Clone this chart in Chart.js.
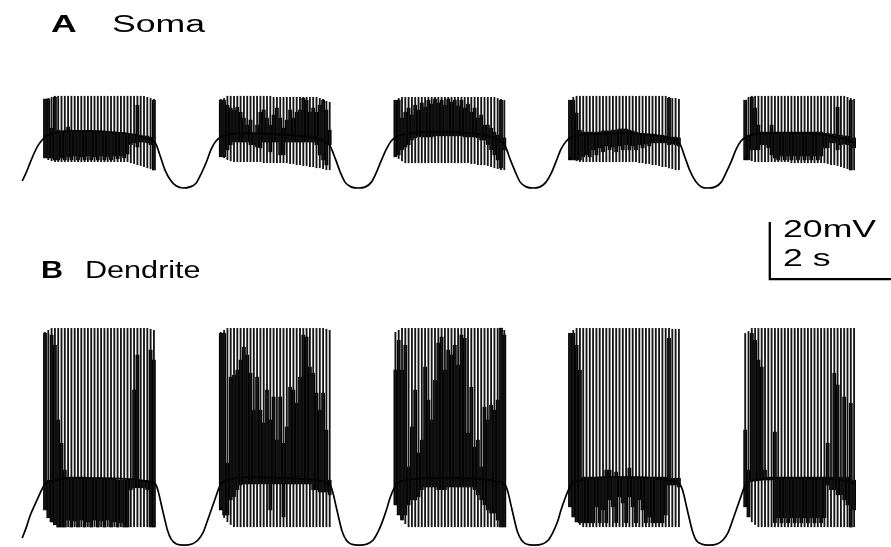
<!DOCTYPE html>
<html>
<head>
<meta charset="utf-8">
<script src="https://cdn.jsdelivr.net/npm/chart.js@4.4.1/dist/chart.umd.min.js"></script>
<style>
  html, body { margin: 0; padding: 0; background: #fff; }
  #wrap { position: relative; width: 891px; height: 547px; overflow: hidden; background: #fff; }
  #wrap canvas { position: absolute; left: 0; top: 0; }
  .lbl { position: absolute; font-family: 'Liberation Sans', Arial, sans-serif; font-size: 23px; line-height: 23px;
         color: #000; white-space: nowrap; transform: scaleX(1.55); transform-origin: 0 0; }
  .narrow { transform: scaleX(1.33); }
  .bold { font-weight: bold; }
</style>
</head>
<body>
<div id="wrap">
  <canvas id="trace" width="891" height="547"></canvas>
  <div class="lbl bold" style="left:51px;top:13px">A</div>
  <div class="lbl" style="left:112px;top:13px">Soma</div>
  <div class="lbl bold narrow" style="left:41px;top:259px">B</div>
  <div class="lbl narrow" style="left:85px;top:259px">Dendrite</div>
  <div class="lbl" id="barV" style="left:783px;top:218px"></div>
  <div class="lbl" id="barT" style="left:783px;top:247px"></div>
</div>
<script>
// ---- timebase ----
const spikeInterval = 0.055;                       // s between spikes within a burst
const burstOnsets = [0.38, 3.31, 6.22, 9.13, 12.05]; // s, first spike of each burst

// ---- scale bar ----
const barSeconds = 2;
const barMillivolts = 20;
const barAnchorT = 12.46;   // s
const barAnchorV = 33.2;    // mV on the dendrite axis

// ---- soma: slow wave / plateau [t (s), V (mV)] ----
const somaBaseline = [
  [0,-57.5],[0.07,-54.3],[0.13,-51.1],[0.2,-47.5],[0.27,-44.6],[0.33,-42.9],[0.38,-41.8],
  [0.55,-40.4],[0.8,-39.6],[1.13,-39.6],[1.47,-40],[1.8,-40.7],[2.05,-42.1],[2.22,-43.9],
  [2.3,-48.6],[2.38,-53.6],[2.47,-57.1],[2.57,-59.3],[2.68,-60],[2.8,-59.6],[2.9,-58.2],[2.98,-55],[3.07,-50.7],[3.15,-46.1],[3.23,-43.2],[3.32,-41.8],
  [3.47,-40.7],[3.8,-40.4],[4.13,-40.7],[4.47,-41.1],[4.8,-41.8],[5,-42.9],[5.13,-45],
  [5.22,-49.6],[5.3,-54.3],[5.38,-57.9],[5.48,-59.6],[5.6,-60],[5.72,-59.6],[5.82,-57.9],[5.9,-54.6],[5.98,-50.4],[6.07,-46.1],[6.15,-43.2],[6.23,-41.8],
  [6.38,-40.7],[6.72,-40],[7.05,-40],[7.38,-40.4],[7.72,-41.1],[7.92,-42.5],[8.05,-45],
  [8.13,-49.6],[8.22,-54.3],[8.3,-57.9],[8.4,-59.6],[8.52,-60],[8.63,-59.6],[8.73,-57.9],[8.82,-54.6],[8.9,-50.4],[8.98,-46.1],[9.07,-43.2],[9.15,-41.8],
  [9.3,-41.1],[9.63,-40.7],[9.97,-40.4],[10.3,-40.7],[10.63,-41.4],[10.83,-42.5],[10.97,-44.6],
  [11.05,-49.3],[11.13,-53.9],[11.22,-57.5],[11.32,-59.6],[11.43,-60],[11.55,-59.6],[11.65,-57.9],[11.73,-54.6],[11.82,-50.4],[11.9,-46.1],[11.98,-43.2],[12.07,-41.8],
  [12.22,-40.7],[12.55,-40.4],[12.88,-40.4],[13.22,-40.7],[13.55,-41.8],[13.77,-42.9],[13.87,-43.9]
];

// ---- soma spikes: peak and trough per spike (mV), one row per burst ----
const somaPeak = [
  [-28.2,-27.9,-27.5,
   -27.1,-27.1,-27.1,-27.1,-27.1,-27.1,-27.1,
   -27.1,-27.1,-27.1,-27.1,-27.1,-27.1,-27.1,
   -27.1,-27.1,-27.1,-27.1,-27.1,-27.1,-27.1,
   -27.1,-27.1,-27.1,-27.1,-27.1,-27.1,-27.1,
   -27.5,-27.9,-28.2],
  [-28.2,-27.9,
   -27.1,-27.1,-27.1,-27.1,-27.1,-27.1,-27.1,
   -27.1,-27.1,-27.1,-27.1,-27.1,-27.1,-27.1,
   -27.5,-27.5,-27.5,-27.5,-27.5,-27.5,-27.5,
   -27.5,-27.5,-27.5,-27.5,-27.5,-27.5,-27.5,
   -27.9,-28.2,-28.9,-29.3],
  [-28.6,-27.9,
   -27.5,-27.5,-27.5,-27.5,-27.5,-27.5,-27.5,
   -27.5,-27.5,-27.5,-27.5,-27.5,-27.5,-27.5,
   -27.5,-27.5,-27.5,-27.5,-27.5,-27.5,-27.5,
   -27.5,-27.5,-27.5,-27.5,-27.5,-27.5,-27.5,
   -27.5,
   -27.9,-28.2,-28.6],
  [-28.6,-27.5,
   -27.1,-27.1,-27.1,-27.1,-27.1,-27.1,-27.1,
   -27.1,-27.1,-27.1,-27.1,-27.1,-27.1,-27.1,
   -27.1,-27.1,-27.1,-27.1,-27.1,-27.1,-27.1,
   -27.1,-27.1,-27.1,-27.1,-27.1,-27.1,-27.1,
   -27.5,-27.9,-27.9,-28.2],
  [-28.6,-27.5,
   -27.1,-27.1,-27.1,-27.1,-27.1,-27.1,-27.1,
   -27.1,-27.1,-27.1,-27.1,-27.1,-27.1,-27.1,
   -27.1,-27.1,-27.1,-27.1,-27.1,-27.1,-27.1,
   -27.1,-27.1,-27.1,-27.1,-27.1,-27.1,-27.1,
   -27.1,
   -27.5,-27.9,-28.2]
];
const somaTrough = [
  [-49.3,-50,-50.4,
   -50.7,-50.7,-50.7,-50.7,-50.7,-50.7,-50.7,
   -50.7,-50.7,-50.7,-50.7,-50.7,-50.7,-50.7,
   -50.7,-50.7,-50.7,-50.7,-50.7,-50.7,-50.7,
   -50.7,-50.7,
   -51.1,-51.4,-51.8,-52.1,-52.5,-52.9,-53.2,-53.6],
  [-48.9,-49.3,-50,-50.4,
   -50.7,-50.7,-50.7,-50.7,-50.7,-50.7,-50.7,-50.7,-50.7,
   -51.1,-51.1,-51.1,-51.1,-51.1,-51.1,-51.1,-51.1,
   -51.4,-51.4,-51.8,-51.8,-52.1,-52.1,-52.5,-52.5,-52.9,-52.9,-53.2,-53.6,-53.6],
  [-48.9,-49.6,-50.4,
   -51.1,-51.1,-51.1,-51.1,-51.1,-51.1,-51.1,-51.1,-51.1,-51.1,
   -51.1,-51.1,-51.1,-51.1,-51.1,-51.1,-51.1,-51.1,-51.1,-51.1,
   -51.4,-51.4,-51.8,-51.8,-51.8,-52.1,-52.5,-52.9,-53.2,-53.6,-53.6],
  [-48.9,-50,-50.4,
   -50.7,-50.7,-50.7,-50.7,-50.7,-50.7,-50.7,-50.7,-50.7,
   -50.7,-50.7,-50.7,-50.7,-50.7,-50.7,-50.7,-50.7,-50.7,
   -51.1,-51.1,-51.4,-51.4,-51.8,-51.8,-52.1,-52.5,-52.5,-52.9,-53.2,-53.6,-53.6],
  [-48.9,-50,-50.4,
   -50.7,-50.7,-50.7,-50.7,-50.7,-50.7,-50.7,-50.7,-50.7,-50.7,-50.7,
   -51.1,-51.1,-51.1,-51.1,-51.1,-51.1,-51.1,-51.1,-51.1,-51.1,-51.1,
   -51.4,-51.8,-51.8,-52.1,-52.5,-52.9,-53.2,-53.6,-53.6]
];
// dense firing band (merged spikelets) per spike slot: upper and lower edge (mV)
const somaBandHigh = [
  [-28.2,-28.2,-38.6,-27.5,-39.3,-39.6,-39.6,-38.2,
   -39.6,-39.6,-39.6,-39.6,-39.6,-39.6,-39.6,
   -40,-40,-40,-40,-40,-40,-40,
   -40.4,-40.4,-40.4,-40.4,
   -40.7,-40.7,-30.4,-41.1,-41.4,-41.4,-41.8,-28.6],
  [-28.6,-28.6,-30.4,-31.4,-32.1,-31.1,-32.9,-35,-37.5,-35.7,-40.4,-37.5,-32.9,-32.1,-35,-37.5,-33.9,
   -31.4,-35,-38.6,-35.7,-32.1,-35,-32.9,-32.1,-27.9,-28.6,-32.9,-31.4,-32.9,-30.4,-28.6,-32.1,-39.3],
  [-28.6,-28.6,-35,-32.9,-31.4,-33.9,-30.4,-32.1,-29.6,-31.1,-28.6,-30,-28.2,-29.6,-28.6,-30.4,-28.2,
   -29.3,-28.6,-30.7,-28.6,-31.4,-30,-32.9,-31.4,-35,-33.9,-37.5,-37.5,-38.6,-40,-41.1,-28.6,-42.1],
  [-28.6,-28.6,-33.2,-39.3,-40,-40,-40,-40,-40,-40,-39.6,-39.6,-39.6,-39.3,-39.3,-38.9,-38.9,
   -38.9,-39.3,-39.6,-40,-40.4,-40.4,-40.7,-40.7,-40.7,-41.1,-41.1,-41.1,-41.4,-27.9,-41.8,-41.8,-42.1],
  [-28.6,-41.1,-27.5,-31.4,-37.5,-40,-40,-40,-37.5,-40,
   -40,-40,-40,-40,-40,-40,-40,-40,-40,-40,-40,-40,-40,-40,
   -40.4,-40.4,-40.7,-40.7,-31.1,-41.1,-41.4,-41.4,-28.6,-42.1]
];
const somaBandLow = [
  [-49.3,-49.3,-49.3,-50,-50,-49.3,-50,-48.9,
   -50,-48.6,-50,-48.9,-50,-48.6,-50,-48.9,-50,-48.6,-50,-48.9,-50,-48.6,
   -49.6,-48.6,-49.3,-47.9,
   -44.6,-43.9,-45.4,-43.6,-43.6,-43.9,-44.6,-53.6],
  [-48.9,-48.9,-46.4,-44.6,-43.6,-43.6,-43.6,-43.6,-43.6,
   -44.6,-44.6,-45.4,-45.7,-43.6,-43.6,-47.1,-43.6,-43.6,-48.2,-48.2,
   -43.6,-43.6,-43.6,-43.6,-43.6,-43.6,-43.6,-43.6,-43.6,
   -44.6,-48.2,-50,-51.8,-44.6],
  [-48.9,-48.2,-46.4,-45.4,-44.6,-42.9,-42.1,-41.8,-41.8,-41.8,-41.8,-41.8,
   -41.4,-41.4,-41.4,-41.4,-41.4,-41.4,-41.4,-41.4,-41.4,
   -41.8,-41.8,-41.8,-41.8,
   -42.1,-42.9,-42.9,-44.6,-46.4,-48.2,-50,-52.9,-46.4],
  [-50,-50,-50,-50,-48.9,-48.2,-48.9,-46.4,-48.2,-45.7,-47.1,-45,-46.4,-45.4,-47.1,-45,-46.4,
   -44.6,-46.4,-45,-46.4,-44.6,-45.7,-44.3,-45,-43.9,-43.9,-43.9,-43.9,-43.9,-44.6,-44.3,-44.6,-45],
  [-50,-50,-46.4,-46.4,-46.4,-44.6,-44.6,-45.7,-48.2,-49.3,
   -50,-48.6,-50,-48.6,-50,-48.6,-50,-48.6,-50,-48.6,-50,-48.6,-50,-48.6,
   -45.7,-45.7,-43.9,-43.9,-46.4,-44.6,-44.3,-44.6,-53.6,-45.7]
];

// ---- dendrite: slow wave / plateau [t (s), V (mV)] ----
const dendBaseline = [
  [0,-59.3],[0.07,-55.4],[0.13,-51.4],[0.2,-47.9],[0.27,-44.6],[0.33,-41.8],[0.38,-40],
  [0.55,-38.6],[0.88,-37.9],[1.3,-37.9],[1.72,-38.2],[2.05,-38.9],[2.22,-40],
  [2.27,-42.9],[2.32,-47.5],[2.37,-52.1],[2.42,-56.4],[2.48,-59.6],[2.57,-61.4],[2.7,-61.8],[2.83,-61.4],[2.93,-60],[3.02,-57.1],[3.08,-53.6],[3.15,-49.3],[3.22,-45],[3.28,-41.4],[3.33,-39.6],
  [3.5,-38.2],[3.88,-37.5],[4.3,-37.9],[4.72,-38.2],[4.97,-38.9],[5.13,-40.4],
  [5.18,-43.2],[5.23,-47.9],[5.28,-52.5],[5.33,-56.8],[5.4,-60],[5.48,-61.4],[5.62,-61.8],[5.75,-61.4],[5.85,-60],[5.93,-57.1],[6,-53.6],[6.07,-49.3],[6.13,-45],[6.2,-41.4],[6.25,-39.6],
  [6.42,-38.6],[6.8,-37.9],[7.22,-37.9],[7.63,-38.2],[7.88,-38.9],[8.05,-40.4],
  [8.1,-43.2],[8.15,-47.9],[8.2,-52.5],[8.25,-56.8],[8.32,-60],[8.4,-61.4],[8.53,-61.8],[8.67,-61.4],[8.77,-60],[8.85,-57.1],[8.92,-53.6],[8.98,-49.3],[9.05,-45],[9.12,-41.4],[9.17,-39.6],
  [9.33,-38.6],[9.72,-37.5],[10.13,-37.5],[10.55,-37.9],[10.8,-38.9],[10.97,-40.4],
  [11.02,-43.2],[11.07,-47.9],[11.12,-52.5],[11.17,-56.8],[11.23,-60],[11.32,-61.4],[11.45,-61.8],[11.58,-61.4],[11.68,-60],[11.77,-57.1],[11.83,-53.6],[11.9,-49.3],[11.97,-45],[12.03,-41.4],[12.08,-39.6],
  [12.25,-38.6],[12.63,-37.9],[13.05,-37.9],[13.47,-38.2],[13.72,-38.9],[13.87,-40]
];

// ---- dendrite spikes ----
const dendPeak = [
  [14.3,15,
   15.7,15.7,15.7,15.7,15.7,15.7,15.7,15.7,15.7,15.7,
   15.7,15.7,15.7,15.7,15.7,15.7,15.7,15.7,15.7,15.7,
   15.7,15.7,15.7,15.7,15.7,15.7,15.7,15.7,15.7,15.7,
   15.4,15],
  [14.3,15,
   15.7,15.7,15.7,15.7,15.7,15.7,15.7,15.7,15.7,15.7,
   15.7,15.7,15.7,15.7,15.7,15.7,15.7,15.7,15.7,15.7,
   15.7,15.7,15.7,15.7,15.7,15.7,15.7,15.7,15.7,15.7,
   15.4,15],
  [14.3,15,
   15.7,15.7,15.7,15.7,15.7,15.7,15.7,15.7,15.7,15.7,
   15.7,15.7,15.7,15.7,15.7,15.7,15.7,15.7,15.7,15.7,
   15.7,15.7,15.7,15.7,15.7,15.7,15.7,15.7,15.7,15.7,
   15.4,15],
  [13.9,15,
   15.7,15.7,15.7,15.7,15.7,15.7,15.7,15.7,15.7,15.7,
   15.7,15.7,15.7,15.7,15.7,15.7,15.7,15.7,15.7,15.7,
   15.7,15.7,15.7,15.7,15.7,15.7,15.7,15.7,15.7,
   15.4,15.4,15.4],
  [13.9,14.6,
   15.7,15.7,15.7,15.7,15.7,15.7,15.7,15.7,15.7,15.7,
   15.7,15.7,15.7,15.7,15.7,15.7,15.7,15.7,15.7,15.7,
   15.7,15.7,15.7,15.7,15.7,15.7,15.7,15.7,15.7,15.7,
   15.7,15.7]
];
const dendTrough = [
  [-49.3,-52.1,-53.6,-54.6,
   -55.4,-55.4,-55.4,-55.4,-55.4,-55.4,-55.4,-55.4,-55.4,-55.4,
   -55.4,-55.4,-55.4,-55.4,-55.4,-55.4,-55.4,-55.4,-55.4,-55.4,
   -55.4,-55.4,-55.4,-55.4,-55.4,-55.4,-55.4,-55.4,-55.4,-55.4],
  [-48.2,-52.1,-53.6,-54.6,
   -55.4,-55.4,-55.4,-55.4,-55.4,-55.4,-55.4,-55.4,-55.4,-55.4,
   -55.4,-55.4,-55.4,-55.4,-55.4,-55.4,-55.4,-55.4,-55.4,-55.4,
   -55.4,-55.4,-55.4,-55.4,-55.4,-55.4,-55.4,-55.4,-55.4,-55.4],
  [-47.5,-51.1,-52.9,-54.3,
   -55.4,-55.4,-55.4,-55.4,-55.4,-55.4,-55.4,-55.4,-55.4,-55.4,
   -55.4,-55.4,-55.4,-55.4,-55.4,-55.4,-55.4,-55.4,-55.4,-55.4,
   -55.4,-55.4,-55.4,-55.4,-55.4,-55.4,-55.4,-55.4,-55.4,-55.4],
  [-48.2,-51.8,-53.6,-54.6,
   -55.4,-55.4,-55.4,-55.4,-55.4,-55.4,-55.4,-55.4,-55.4,-55.4,
   -55.4,-55.4,-55.4,-55.4,-55.4,-55.4,-55.4,-55.4,-55.4,-55.4,
   -55.4,-55.4,-55.4,-55.4,-55.4,-55.4,-55.4,-55.4,-55.4,-55.4],
  [-48.2,-51.8,-53.6,-54.6,
   -55.4,-55.4,-55.4,-55.4,-55.4,-55.4,-55.4,-55.4,-55.4,-55.4,
   -55.4,-55.4,-55.4,-55.4,-55.4,-55.4,-55.4,-55.4,-55.4,-55.4,
   -55.4,-55.4,-55.4,-55.4,-55.4,-55.4,-55.4,-55.4,-55.4,-55.4]
];
const dendBandHigh = [
  [13.9,-38.6,13.2,9.6,-17.1,-25.4,-35,
   -37.5,-37.5,-37.5,-37.5,-37.5,-37.5,
   -37.9,-37.9,-37.9,-37.9,-37.9,
   -38.2,-38.2,-38.2,-38.2,
   -38.6,-38.6,-38.6,-38.6,-38.6,
   -6.4,6.1,-38.9,-38.9,-38.9,7.9,4.3],
  [13.9,13.9,-32.5,-1.8,-1.1,0.7,4.3,8.9,6.1,-0.4,-13.6,-1.8,-13.6,-18.2,-6.4,-17.1,-8.9,
   -24.3,-8.9,-25.4,-19.6,-5.4,-6.4,-11.1,-1.8,13.2,12.5,1.8,-0.4,-7.5,-13.6,-7.5,-20.7,-38.6],
  [0.7,11.4,0.7,9.6,-33.9,-19.6,-6.4,-28.9,-24.3,1.8,-10,-17.1,-2.9,10.4,12.5,0.7,7.9,
   6.1,9.6,2.5,13.2,12.1,-21.8,-5.4,-26.8,-24.3,-33.9,-12.5,-17.1,-11.8,-13.6,-10,15.7,13.2],
  [13.9,13.9,9.6,0.7,-37.5,-37.5,-37.5,-37.5,-37.5,-37.5,-37.5,-35,-35,-37.5,-35.7,-37.5,-37.5,
   -37.5,-34.3,-37.5,-37.5,-37.5,-37.5,-37.5,-37.5,-37.5,-37.5,-37.5,-37.5,-37.5,12.1,-37.9,-37.9,-37.9],
  [-20.7,-35,13.9,11.4,4.3,1.8,-35,-37.5,-37.5,-21.4,
   -37.5,-37.5,-37.5,-37.5,-37.5,-37.5,-37.5,-37.5,-37.5,-37.5,-37.5,-37.5,-37.5,-37.5,-37.5,
   -25.4,-37.5,-0.4,-4.6,-37.5,-8.9,-37.5,-11.1,-38.6]
];
const dendBandLow = [
  [-49.3,-52.1,-53.6,-54.6,-55.4,-55.4,-55.4,
   -52.9,-55.4,-53.2,-55.4,-52.9,-55.4,-53.6,-55.4,-52.9,-55.4,-53.2,-55.4,-52.9,-55.4,-53.6,-55.4,-53.9,-55.4,-55.4,
   -42.1,-41.4,-41.4,-41.4,-41.4,-42.1,-55.4,-55.4],
  [-49.3,-51.1,-51.1,-45.7,-44.6,-42.1,-40.4,
   -40,-40,-40,-40,-40,-40,-40,-40,
   -49.3,-40,-40,-40,-51.8,
   -40,-40,-40,-40,-40,-40,-40,-40,
   -42.1,-42.1,-42.9,-42.9,-42.9,-43.9],
  [-47.5,-51.1,-52.9,-51.1,-47.5,-45.7,-45.7,-44.6,-42.1,-41.1,-41.1,-41.1,-41.1,-42.1,-42.1,-42.1,
   -41.1,-41.1,-41.1,-41.1,-41.1,-41.1,-41.1,-41.1,
   -42.1,-43.9,-45.7,-47.5,-49.3,-50.4,-50.4,-52.9,-55.4,-55.4],
  [-48.2,-51.8,-53.6,-53.9,-53.9,-53.9,-53.9,-53.9,-48.2,-53.9,-49.3,-53.9,-45.7,-48.2,-53.9,-44.6,-46.8,
   -53.9,-44.6,-48.2,-53.9,-45.7,-49.3,-53.9,-51.8,-53.9,-53.9,-53.9,-53.9,-51.1,-40.4,-40.4,-40.4,-41.1],
  [-48.2,-51.8,-38.6,-38.6,-38.6,-38.6,-38.6,-38.6,-38.6,-53.9,
   -52.1,-53.9,-52.1,-53.9,-52.1,-53.9,-52.1,-53.9,-52.1,-53.9,-52.1,-53.9,-52.1,-53.9,-52.1,
   -40.4,-42.1,-42.1,-43.9,-43.9,-45.7,-47.5,-55.4,-49.3]
];

// ---- build library data ----
function floatingBars(highs, lows) {
  const pts = [];
  burstOnsets.forEach((t0, b) => {
    highs[b].forEach((hi, i) => {
      pts.push({ x: t0 + i * spikeInterval, y: [lows[b][i], hi] });
    });
  });
  return pts;
}
const asPoints = rows => rows.map(([x, y]) => ({ x, y }));

const ink = '#000';
function bandSet(highs, lows, axis) {
  return { type: 'bar', data: floatingBars(highs, lows), yAxisID: axis, backgroundColor: ink,
           barThickness: 3.4, inflateAmount: 0.2, borderWidth: 0, grouped: false, order: 2 };
}
function spikeSet(peaks, troughs, axis) {
  return { type: 'bar', data: floatingBars(peaks, troughs), yAxisID: axis, backgroundColor: '#151515',
           barThickness: 1.85, inflateAmount: 0, borderWidth: 0, grouped: false, order: 1 };
}
function slowSet(rows, axis) {
  return { type: 'line', data: asPoints(rows), yAxisID: axis, borderColor: ink, borderWidth: 1.7,
           pointRadius: 0, cubicInterpolationMode: 'monotone', fill: false, order: 0 };
}

const scaleBarPlugin = {
  id: 'scaleBar',
  afterDatasetsDraw(chart) {
    const { ctx, scales } = chart;
    const x0 = scales.x.getPixelForValue(barAnchorT);
    const x1 = scales.x.getPixelForValue(barAnchorT + barSeconds);
    const y0 = scales.yDend.getPixelForValue(barAnchorV);
    const y1 = scales.yDend.getPixelForValue(barAnchorV + barMillivolts);
    ctx.save();
    ctx.strokeStyle = ink;
    ctx.lineWidth = 2.3;
    ctx.lineCap = 'square';
    ctx.beginPath();
    ctx.moveTo(x0, y1);
    ctx.lineTo(x0, y0);
    ctx.lineTo(x1, y0);
    ctx.stroke();
    ctx.restore();
  }
};

document.getElementById('barV').textContent = barMillivolts + 'mV';
document.getElementById('barT').textContent = barSeconds + ' s';

new Chart(document.getElementById('trace'), {
  type: 'bar',
  data: {
    datasets: [
      bandSet(somaBandHigh, somaBandLow, 'ySoma'),
      spikeSet(somaPeak, somaTrough, 'ySoma'),
      slowSet(somaBaseline, 'ySoma'),
      bandSet(dendBandHigh, dendBandLow, 'yDend'),
      spikeSet(dendPeak, dendTrough, 'yDend'),
      slowSet(dendBaseline, 'yDend')
    ]
  },
  options: {
    responsive: false,
    animation: false,
    devicePixelRatio: 1,
    layout: { padding: 0 },
    plugins: { legend: { display: false }, tooltip: { enabled: false }, title: { display: false } },
    scales: {
      x: { type: 'linear', min: -0.37, max: 14.48, display: false, offset: false },
      ySoma: { type: 'linear', min: -188.2, max: 7.14, display: false },
      yDend: { type: 'linear', min: -62.5, max: 132.86, display: false }
    }
  },
  plugins: [scaleBarPlugin]
});
</script>
</body>
</html>
